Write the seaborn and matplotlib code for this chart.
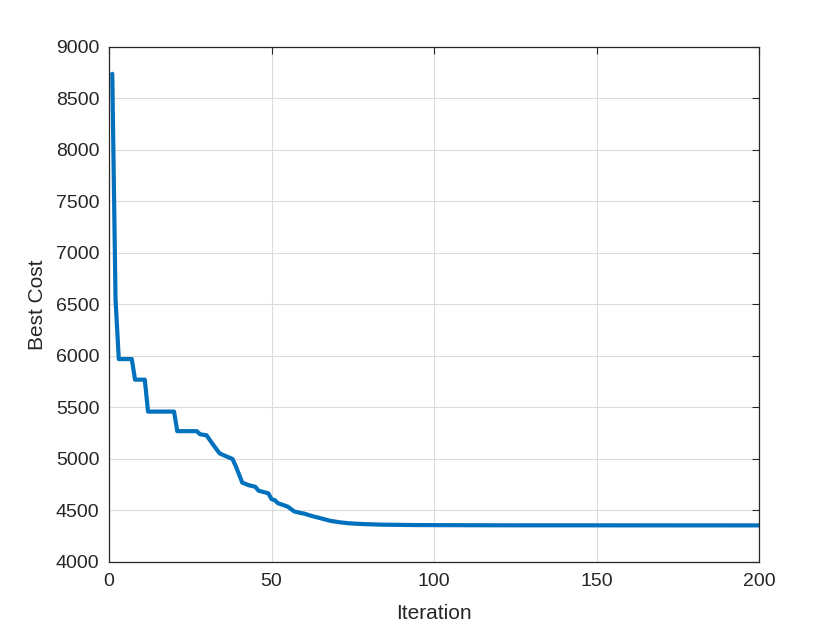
import numpy as np
import pandas as pd
import seaborn as sns
import matplotlib.pyplot as plt

# best cost per iteration
iteration = [1, 2, 3, 7, 8, 11, 12, 20, 21, 27, 28, 30, 32, 34, 35, 38, 39, 41, 43, 45,
             46, 49, 50, 51, 52, 55, 57, 59, 60, 62, 65, 68, 71, 74, 78, 84, 95, 120, 200]
best_cost = [8740, 6550, 5970, 5970, 5770, 5770, 5460, 5460, 5270, 5270, 5240, 5230, 5140,
             5055, 5040, 5000, 4930, 4770, 4745, 4730, 4692, 4667, 4610, 4600, 4570, 4537,
             4490, 4475, 4470, 4450, 4425, 4400, 4385, 4375, 4368, 4362, 4358, 4356, 4355]
x_ticks = [0, 50, 100, 150, 200]
y_ticks = [4000, 4500, 5000, 5500, 6000, 6500, 7000, 7500, 8000, 8500, 9000]

df = pd.DataFrame({'Iteration': iteration, 'Best Cost': best_cost})

sns.set_style('white')
plt.rcParams['font.family'] = ['Liberation Sans', 'DejaVu Sans']

fig = plt.figure(figsize=(8.4, 6.3), dpi=100)
ax = fig.add_axes([0.1298, 0.108, 0.7738, 0.8174])
sns.lineplot(data=df, x='Iteration', y='Best Cost', color='#0072BD', linewidth=3, ax=ax)

ax.set_xlim(0, 200)
ax.set_ylim(4000, 9000)
ax.set_xticks(x_ticks)
ax.set_yticks(y_ticks)
ax.grid(True, color='#dcdcdc', linewidth=0.8)
ax.tick_params(direction='in', length=5, width=0.8, color='#262626',
               labelsize=14, labelcolor='#262626', top=True, right=True,
               labeltop=False, labelright=False)
ax.tick_params(axis='x', pad=8)
ax.tick_params(axis='y', pad=7)
for s in ax.spines.values():
    s.set_color('#262626')
    s.set_linewidth(0.9)
ax.set_xlabel('Iteration', fontsize=15, color='#262626', labelpad=10)
ax.set_ylabel('Best Cost', fontsize=15, color='#262626', labelpad=6)

fig.savefig('out.png', dpi=100)
